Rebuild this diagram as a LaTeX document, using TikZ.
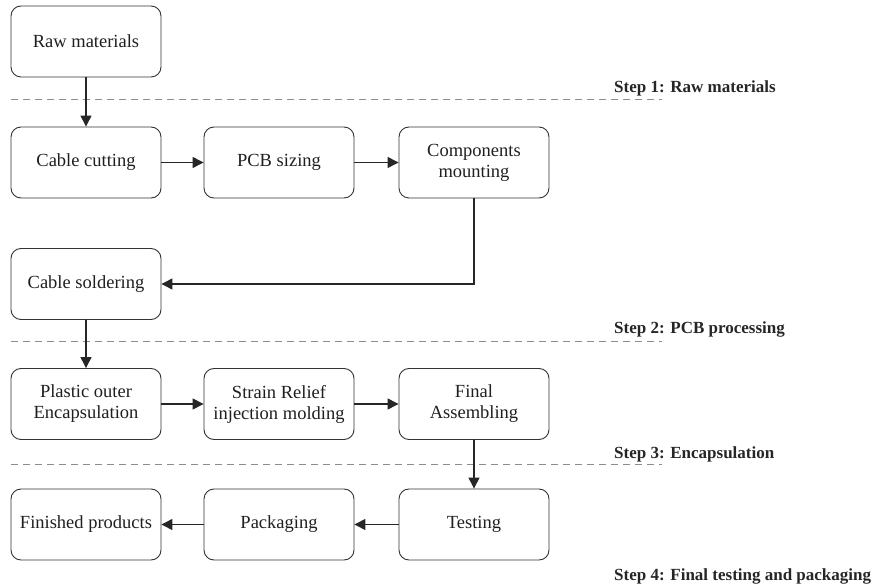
\documentclass[tikz,border=0pt]{standalone}
\usepackage{fontspec}
\setmainfont{Liberation Serif}
\usetikzlibrary{arrows.meta}
\begin{document}
\begin{tikzpicture}[x=1pt,y=-1pt,
  stepbox/.style={draw=black!80, line width=0.9pt, rounded corners=10pt,
    minimum width=150pt, minimum height=71pt, align=center,
    font=\fontsize{18.5}{21}\selectfont, text=black!88, inner sep=2pt},
  flow/.style={draw=black!85, line width=1.3pt,
    -{Triangle[length=11pt,width=11pt]}},
  stage/.style={draw=black!45, line width=1pt, dash pattern=on 7pt off 5pt},
  stagelabel/.style={anchor=base west, font=\fontsize{17}{19}\selectfont\bfseries,
    text=black!85, inner sep=0pt}]
\useasboundingbox (0,0) rectangle (873,585);

% process boxes
\node[stepbox] (raw)  at (86,41.5)   {Raw materials};
\node[stepbox] (cut)  at (86,162.5)  {Cable cutting};
\node[stepbox] (pcb)  at (279,162.5) {PCB sizing};
\node[stepbox] (comp) at (474,162.5) {Components\\mounting};
\node[stepbox] (sold) at (86,284)    {Cable soldering};
\node[stepbox] (enc)  at (86,404)    {Plastic outer\\Encapsulation};
\node[stepbox] (sr)   at (279,404)   {Strain Relief\\injection molding};
\node[stepbox] (fa)   at (474,404)   {Final\\Assembling};
\node[stepbox] (fin)  at (86,524.5)  {Finished products};
\node[stepbox] (pack) at (279,524.5) {Packaging};
\node[stepbox] (test) at (474,524.5) {Testing};

% stage separators
\draw[stage] (11,100) -- (662,100);
\draw[stage] (11,342) -- (662,342);
\draw[stage] (11,464) -- (662,464);

% stage labels
\node[stagelabel] (s1) at (614,93)  {Step 1: Raw materials};
\node[stagelabel] (s2) at (614,334) {Step 2: PCB processing};
\node[stagelabel] (s3) at (614,458) {Step 3: Encapsulation};
\node[stagelabel] (s4) at (614,580) {Step 4: Final testing and packaging};

% flow connectors
\draw[flow] (raw) -- (cut);
\draw[flow] (cut) -- (pcb);
\draw[flow] (pcb) -- (comp);
\draw[flow] (comp.south) |- (sold.east);
\draw[flow] (sold) -- (enc);
\draw[flow] (enc) -- (sr);
\draw[flow] (sr) -- (fa);
\draw[flow] (fa) -- (test);
\draw[flow] (test) -- (pack);
\draw[flow] (pack) -- (fin);
\end{tikzpicture}
\end{document}
